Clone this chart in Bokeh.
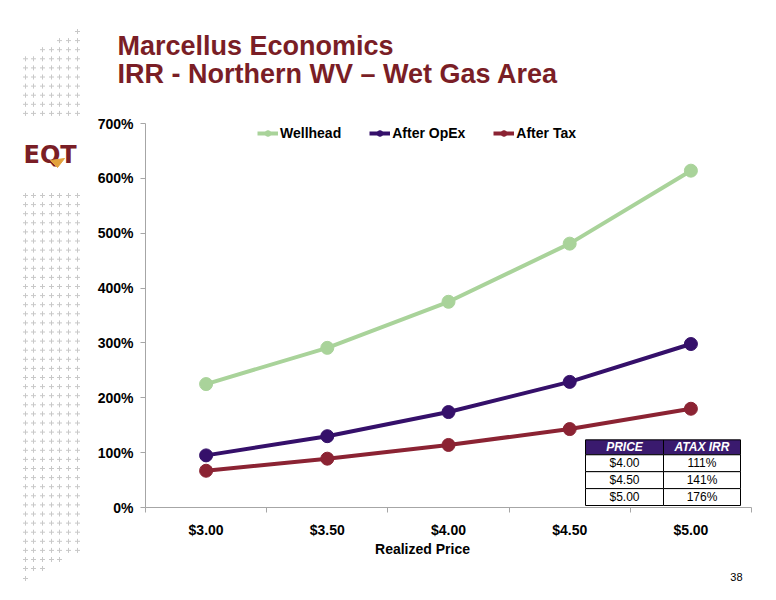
from bokeh.plotting import figure
from bokeh.layouts import row, column
from bokeh.models import (FactorRange, Range1d, LinearAxis, FixedTicker, PrintfTickFormatter,
                          Legend, LegendItem, ColumnDataSource)
from bokeh.embed import file_html
from bokeh.resources import INLINE
from bokeh.core.properties import value

# ---------------- data ----------------
prices = ["$3.00", "$3.50", "$4.00", "$4.50", "$5.00"]
wellhead = [225, 291, 375, 481, 614]
after_opex = [95, 130, 174, 229, 298]
after_tax = [67, 89, 114, 143, 180]
y_ticks = [0, 100, 200, 300, 400, 500, 600, 700]
series_names = ["Wellhead", "After OpEx", "After Tax"]
table_header = ["PRICE", "ATAX IRR"]
table_prices = ["$4.00", "$4.50", "$5.00"]
table_irr = ["111%", "141%", "176%"]
title_lines = ["Marcellus Economics", "IRR - Northern WV \u2013 Wet Gas Area"]
x_title = "Realized Price"
page_no = "38"
logo_text = "EQT"

# ---------------- styles / layout ----------------
FONT = "Liberation Sans"
GREEN = "#A9D39A"
PURPLE = "#35106A"
RED = "#8B2333"
TITLE_RED = "#7A1E26"
HEADER = "#3A1A6E"
AXIS_GREY = "#A6A6A6"
PLUS_GREY = "#C8C8C8"

W, H = 774, 598          # whole page area (page pixels)
LW = 90                  # left decoration column
RW = W - LW
TH, MH = 110, 430        # title strip, main chart
BH = H - TH - MH         # bottom strip
FL, FR, FT, FB = 145, 751, 123, 509   # plot frame edges in page pixels
n = len(prices)
YMAX = y_ticks[-1]


def px_x(X):
    return (X - FL) / (FR - FL) * n


def px_y(Y):
    return (FB - Y) / (FB - FT) * YMAX


def blank(width, height, x0, x1, y0, y1):
    f = figure(width=width, height=height, output_backend="svg", toolbar_location=None,
               x_range=Range1d(x0, x1), y_range=Range1d(y1, y0),
               x_axis_type=None, y_axis_type=None, min_border=0, frame_align=False)
    f.outline_line_color = None
    f.grid.visible = False
    f.background_fill_color = "white"
    f.border_fill_color = "white"
    return f


# ---------------- left decoration: plus grid + logo ----------------
left = blank(LW, H, 0, LW, 0, H)
cols = [25, 33, 42, 51, 59, 68, 77]
gx, gy = [], []
top_rows = [31 + 9.1 * k for k in range(10)]
top_start = [6, 4, 2] + [0] * 7
for Y, s in zip(top_rows, top_start):
    for X in cols[s:]:
        gx.append(X); gy.append(Y)
for k in range(40):
    Y = 195 + 9.1 * k
    for X in cols:
        gx.append(X); gy.append(Y)
for Y, m in zip([559, 568, 578], [5, 3, 1]):
    for X in cols[:m]:
        gx.append(X); gy.append(Y)
left.scatter(gx, gy, marker="cross", size=5, line_color=PLUS_GREY, line_width=1)
left.text(x=[23], y=[154], text=[logo_text], text_font=value("DejaVu Sans"),
          text_font_style="bold", text_font_size="24px", text_color=TITLE_RED,
          text_baseline="alphabetic")
left.patch([50, 64, 57], [160, 158, 167], fill_color="#E3A23B", line_color="#E3A23B")

# ---------------- title strip ----------------
top = blank(RW, TH, LW, W, 0, TH)
top.text(x=[117, 117], y=[45, 73], text=title_lines, text_font=value(FONT),
         text_font_style="bold", text_font_size="27px", text_color=TITLE_RED,
         text_baseline="alphabetic")

# ---------------- main chart ----------------
p = figure(width=RW, height=MH, output_backend="svg", toolbar_location=None,
           x_range=FactorRange(*prices, range_padding=0),
           y_range=Range1d(0, YMAX), x_axis_type=None, frame_align=False,
           min_border_left=FL - LW, min_border_right=W - FR,
           min_border_top=FT - TH, min_border_bottom=TH + MH - FB)
p.outline_line_color = None
p.grid.visible = False
p.background_fill_color = "white"
p.border_fill_color = "white"

ya = p.yaxis[0]
ya.ticker = FixedTicker(ticks=y_ticks, minor_ticks=[])
ya.formatter = PrintfTickFormatter(format="%d%%")
ya.axis_line_color = AXIS_GREY
ya.major_tick_line_color = AXIS_GREY
ya.major_tick_in = 0
ya.major_tick_out = 5
ya.minor_tick_line_color = None
ya.major_label_standoff = 7
ya.major_label_text_font = FONT
ya.major_label_text_font_style = "bold"
ya.major_label_text_font_size = "14px"
ya.major_label_text_color = "black"

centres = [i + 0.5 for i in range(n)]
xa = LinearAxis(ticker=FixedTicker(ticks=centres, minor_ticks=list(range(0, n + 1))),
                major_label_overrides={c: lab for c, lab in zip(centres, prices)})
xa.axis_line_color = AXIS_GREY
xa.major_tick_line_color = None
xa.major_tick_in = 0
xa.major_tick_out = 0
xa.minor_tick_line_color = AXIS_GREY
xa.minor_tick_in = 0
xa.minor_tick_out = 5
xa.major_label_standoff = 9
xa.major_label_text_font = FONT
xa.major_label_text_font_style = "bold"
xa.major_label_text_font_size = "14px"
xa.major_label_text_color = "black"
p.add_layout(xa, "below")

src = ColumnDataSource(dict(price=prices, wellhead=wellhead, opex=after_opex, tax=after_tax))
items = []
for col, color, name in zip(["wellhead", "opex", "tax"], [GREEN, PURPLE, RED], series_names):
    ln = p.line("price", col, source=src, line_color=color, line_width=4)
    sc = p.scatter("price", col, source=src, size=13, fill_color=color, line_color=color)
    items.append(LegendItem(label=name, renderers=[ln, sc]))

legend = Legend(items=items, orientation="horizontal", location=(257 - FL, FB - 143),
                label_text_font=FONT, label_text_font_style="bold", label_text_font_size="14px",
                label_text_color="black", glyph_width=21, glyph_height=14, label_height=14,
                label_standoff=2, spacing=28, padding=0, margin=0,
                border_line_color=None, background_fill_alpha=0)
p.add_layout(legend)

# inset table
t_left, t_mid, t_right = 585, 663, 740
row_edges = [441, 456, 473, 490, 507]
lefts, rights, tops, bottoms, fills = [], [], [], [], []
for r in range(len(row_edges) - 1):
    for (a, b) in [(t_left, t_mid), (t_mid, t_right)]:
        lefts.append(px_x(a)); rights.append(px_x(b))
        tops.append(px_y(row_edges[r])); bottoms.append(px_y(row_edges[r + 1]))
        fills.append(HEADER if r == 0 else "white")
p.quad(left=lefts, right=rights, top=tops, bottom=bottoms, fill_color=fills,
       line_color="black", line_width=1)
cx = [px_x((t_left + t_mid) / 2), px_x((t_mid + t_right) / 2)]
cy = [px_y((row_edges[r] + row_edges[r + 1]) / 2) for r in range(len(row_edges) - 1)]
p.text(x=cx, y=[cy[0]] * 2, text=table_header, text_font=value(FONT),
       text_font_style="bold italic", text_font_size="12px", text_color="white",
       text_align="center", text_baseline="middle")
p.text(x=[cx[0]] * len(table_prices) + [cx[1]] * len(table_irr), y=cy[1:] + cy[1:],
       text=table_prices + table_irr, text_font=value(FONT), text_font_size="12px",
       text_color="black", text_align="center", text_baseline="middle")

# ---------------- bottom strip ----------------
bot = blank(RW, BH, LW, W, TH + MH, H)
bot.text(x=[422], y=[548], text=[x_title], text_font=value(FONT), text_font_style="bold",
         text_font_size="14px", text_color="black", text_align="center",
         text_baseline="alphabetic")
bot.text(x=[742], y=[576], text=[page_no], text_font=value(FONT), text_font_size="11px",
         text_color="black", text_align="right", text_baseline="alphabetic")

layout = row(left, column(top, p, bot, spacing=0), spacing=0)
open("out.html", "w").write(file_html(layout, INLINE))
